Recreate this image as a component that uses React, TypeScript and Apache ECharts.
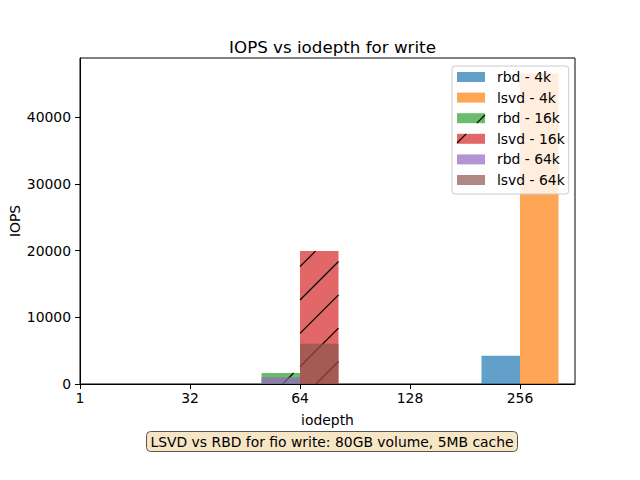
import React, { useEffect, useRef } from "react";
import * as echarts from "echarts";

const tickLabels = ["1", "32", "64", "128", "256"];
const seriesNames = ["rbd - 4k", "lsvd - 4k", "rbd - 16k", "lsvd - 16k", "rbd - 64k", "lsvd - 64k"];
const rbd4k = [0, 0, 0, 0, 4250];
const lsvd4k = [0, 0, 0, 0, 46600];
const rbd16k = [0, 0, 1650, 0, 0];
const lsvd16k = [0, 0, 19950, 0, 0];
const rbd64k = [0, 0, 1000, 0, 0];
const lsvd64k = [0, 0, 6030, 0, 0];

const seriesValues = [rbd4k, lsvd4k, rbd16k, lsvd16k, rbd64k, lsvd64k];
const baseColors = ["#1f77b4", "#ff7f0e", "#2ca02c", "#d62728", "#9467bd", "#8c564b"];
const hatched = [false, false, true, true, false, false];
const offsets = [-0.35, 0, -0.35, 0, -0.35, 0];
const BAR_W = 0.35;
const HATCH_S = 100 / 3;

function rgba(hex: string, a: number) {
  const r = parseInt(hex.slice(1, 3), 16);
  const g = parseInt(hex.slice(3, 5), 16);
  const b = parseInt(hex.slice(5, 7), 16);
  return `rgba(${r},${g},${b},${a})`;
}

function hatchSegments(L: number, T: number, R: number, B: number) {
  const segs: number[][] = [];
  const n0 = Math.ceil((L + T) / HATCH_S);
  const n1 = Math.floor((R + B) / HATCH_S);
  for (let n = n0; n <= n1; n++) {
    const c = n * HATCH_S;
    const xa = Math.max(L, c - B);
    const xb = Math.min(R, c - T);
    if (xb - xa > 0.3) segs.push([xa, c - xa, xb, c - xb]);
  }
  return segs;
}

const FONT = "DejaVu Sans";

export default function App() {
  const ref = useRef<HTMLDivElement>(null);
  useEffect(() => {
    if (!ref.current) return;
    const chart = echarts.init(ref.current, null, { renderer: "svg" });

    const series: any[] = seriesNames.map((name, si) => ({
      type: "custom",
      name,
      clip: true,
      itemStyle: { color: rgba(baseColors[si], 0.7) },
      encode: { x: 0, y: 1 },
      data: seriesValues[si].map((v, i) => [i, v]),
      renderItem: (params: any, api: any) => {
        const xi = api.value(0) as number;
        const v = api.value(1) as number;
        if (!v) return null;
        const p0 = api.coord([xi + offsets[si], 0]);
        const p1 = api.coord([xi + offsets[si] + BAR_W, v]);
        const L = p0[0], R = p1[0], T = p1[1], B = p0[1];
        const children: any[] = [
          {
            type: "rect",
            shape: { x: L, y: T, width: R - L, height: B - T },
            style: { fill: rgba(baseColors[si], 0.7) },
          },
        ];
        if (hatched[si]) {
          hatchSegments(L, T, R, B).forEach((s) => {
            children.push({
              type: "line",
              shape: { x1: s[0], y1: s[1], x2: s[2], y2: s[3] },
              style: { stroke: "#000", lineWidth: 1.2 },
            });
          });
        }
        return { type: "group", children };
      },
    }));

    // legend icon hatch overlays
    const legendLeft = 452;
    const legendTop = 66;
    const padTop = 4;
    const rowH = 14;
    const gap = 6.6;
    const iconL = legendLeft + 5;
    const graphics: any[] = [];
    seriesNames.forEach((_, i) => {
      if (!hatched[i]) return;
      const cy = legendTop + padTop + rowH / 2 + i * (rowH + gap);
      hatchSegments(iconL, cy - 5, iconL + 28, cy + 5).forEach((s) => {
        graphics.push({
          type: "line",
          z: 100,
          shape: { x1: s[0], y1: s[1], x2: s[2], y2: s[3] },
          style: { stroke: "#000", lineWidth: 1.2 },
        });
      });
    });

    chart.setOption({
      animation: false,
      textStyle: { fontFamily: FONT },
      title: [
        {
          text: "IOPS vs iodepth for write",
          left: 327.5,
          top: 33,
          textAlign: "center",
          textStyle: { fontFamily: FONT, fontSize: 16.7, fontWeight: "normal", color: "#000" },
        },
        {
          text: "LSVD vs RBD for fio write: 80GB volume, 5MB cache",
          left: 328,
          top: 431,
          textAlign: "center",
          padding: [3, 4, 2, 4],
          backgroundColor: "#F7E6C6",
          borderColor: "#555",
          borderWidth: 1,
          borderRadius: 4,
          textStyle: { fontFamily: FONT, fontSize: 13.9, fontWeight: "normal", color: "#000", lineHeight: 16 },
        },
      ],
      grid: {
        left: 80,
        right: 65,
        top: 58,
        bottom: 96,
        containLabel: false,
        outerBoundsMode: "none",
        show: true,
        borderColor: "#000",
        borderWidth: 1,
        backgroundColor: "transparent",
      },
      legend: {
        orient: "vertical",
        left: legendLeft,
        top: legendTop,
        padding: [padTop, 4, 7, 5],
        itemWidth: 28,
        itemHeight: 10,
        itemGap: gap,
        icon: "rect",
        backgroundColor: "rgba(255,255,255,0.8)",
        borderColor: "#cccccc",
        borderWidth: 1,
        borderRadius: 3,
        selectedMode: false,
        textStyle: {
          fontFamily: FONT,
          fontSize: 13.9,
          color: "#000",
          lineHeight: rowH,
          padding: [0, 0, 0, 7],
        },
        data: seriesNames.map((n, i) => ({ name: n, itemStyle: { color: rgba(baseColors[i], 0.7) } })),
        z: 50,
      },
      xAxis: {
        type: "value",
        min: 0,
        max: 4.5,
        interval: 1,
        name: "iodepth",
        nameLocation: "middle",
        nameGap: 29,
        nameMoveOverlap: false,
        nameTextStyle: { fontFamily: FONT, fontSize: 13.9, color: "#000" },
        axisLine: { show: true, onZero: false, lineStyle: { color: "#000", width: 1 } },
        axisTick: { show: true, length: 5, lineStyle: { color: "#000" } },
        axisLabel: {
          fontFamily: FONT,
          fontSize: 13.9,
          color: "#000",
          margin: 7,
          showMaxLabel: false,
          formatter: (v: number) => (Number.isInteger(v) && tickLabels[v] !== undefined ? tickLabels[v] : ""),
        },
        splitLine: { show: false },
      },
      yAxis: {
        type: "value",
        min: 0,
        max: 48930,
        interval: 10000,
        name: "IOPS",
        nameLocation: "middle",
        nameGap: 58,
        nameMoveOverlap: false,
        nameTextStyle: { fontFamily: FONT, fontSize: 13.9, color: "#000" },
        axisLine: { show: true, lineStyle: { color: "#000", width: 1 } },
        axisTick: { show: true, length: 5, lineStyle: { color: "#000" } },
        axisLabel: {
          fontFamily: FONT,
          fontSize: 13.9,
          color: "#000",
          margin: 9,
          showMaxLabel: false,
          formatter: (v: number) => (v % 10000 === 0 ? String(v) : ""),
        },
        splitLine: { show: false },
      },
      series,
      graphic: graphics,
    });
    return () => chart.dispose();
  }, []);
  return (
    <div
      ref={ref}
      style={{ position: "fixed", left: 0, top: 0, width: 640, height: 480, background: "#fff" }}
    />
  );
}
